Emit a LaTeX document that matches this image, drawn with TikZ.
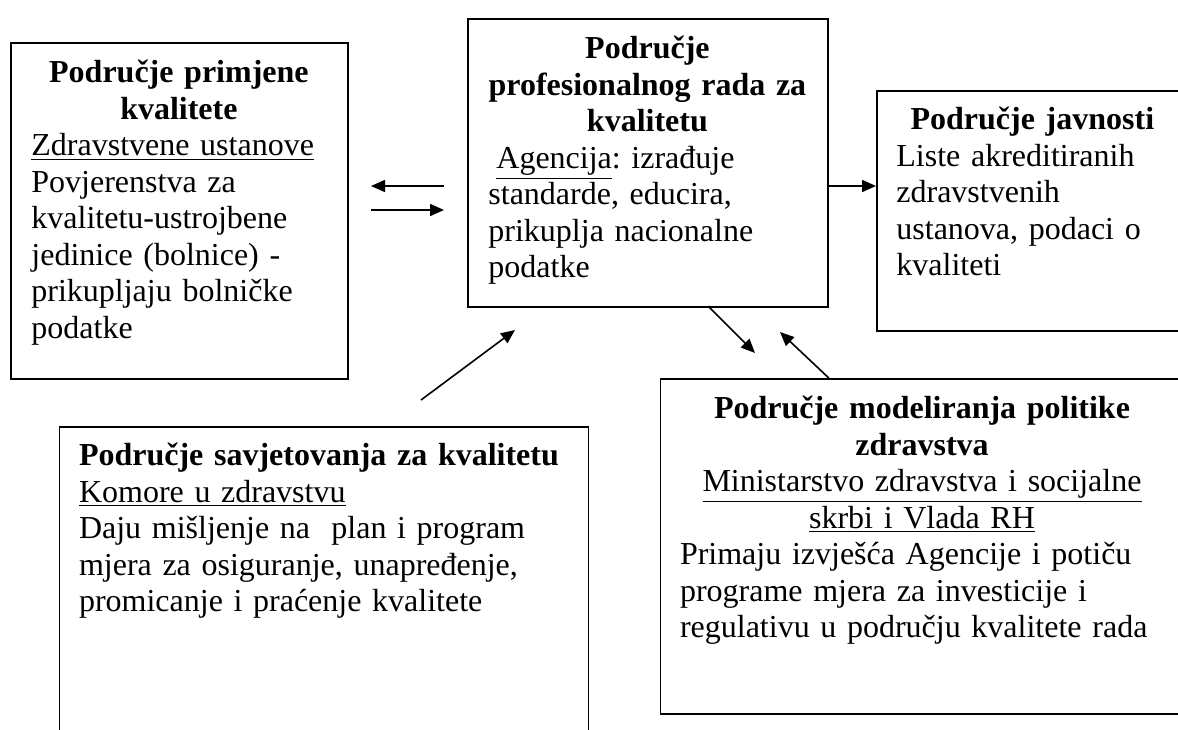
\documentclass[tikz,border=0pt]{standalone}
\usepackage{fontspec}
\setmainfont{Liberation Serif}
\usetikzlibrary{positioning, arrows.meta}

\begin{document}
\begin{tikzpicture}[x=0.5pt, y=-0.5pt,
        box/.style={draw, line width=0.9pt, inner sep=0pt, anchor=north west},
        txt/.style={inner sep=0pt, font=\fontsize{16pt}{18.25pt}\selectfont\frenchspacing},
        conn/.style={line width=0.8pt, -{Triangle[length=7pt, width=6pt]}}]
        \useasboundingbox (0,0) rectangle (1178,729);
        \clip (0,0) rectangle (1178,729);

        \node[box, minimum width=168.5pt, minimum height=168pt] (primBox) at (10,42) {};
        \node[txt, text width=147.5pt, below right=9pt and 10.5pt of primBox.north west] (primText)
            {{\centering\bfseries Područje primjene\\ kvalitete\par}\raggedright
            \underline{Zdravstvene ustanove}\\ Povjerenstva za\\ kvalitetu-ustrojbene\\
            jedinice (bolnice) -\\ prikupljaju bolničke\\ podatke};

        \node[box, minimum width=180pt, minimum height=144pt] (profBox) at (467,18) {};
        \node[txt, text width=159pt, below right=9pt and 10.5pt of profBox.north west] (profText)
            {{\centering\bfseries Područje\\ profesionalnog rada za\\ kvalitetu\par}\raggedright
            \hspace*{0.25em}\underline{Agencija}: izrađuje\\ standarde, educira,\\
            prikuplja nacionalne\\ podatke};

        \node[box, minimum width=156.5pt, minimum height=120pt] (javnBox) at (876,90) {};
        \node[txt, text width=136pt, below right=8.5pt and 10pt of javnBox.north west] (javnText)
            {{\centering\bfseries Područje javnosti\par}\raggedright
            Liste akreditiranih\\ zdravstvenih\\ ustanova, podaci o\\ kvaliteti};

        \node[box, minimum width=264.5pt, minimum height=167pt] (savBox) at (58.6,426) {};
        \node[txt, text width=244.5pt, below right=8.5pt and 10pt of savBox.north west] (savText)
            {\raggedright\textbf{Područje savjetovanja za kvalitetu}\\ \underline{Komore u zdravstvu}\\
            Daju mišljenje na\ \ plan i program\\ mjera za osiguranje, unapređenje,\\
            promicanje i praćenje kvalitete};

        \node[box, minimum width=262.5pt, minimum height=167.5pt] (modelBox) at (659.6,378) {};
        \node[txt, text width=242pt, below right=9pt and 10pt of modelBox.north west] (modelText)
            {{\centering\bfseries Područje modeliranja politike\\ zdravstva\par}
            {\centering\underline{Ministarstvo zdravstva i socijalne}\\ \underline{skrbi i Vlada RH}\par}\raggedright
            Primaju izvješća Agencije i potiču\\ programe mjera za investicije i\\
            regulativu u području kvalitete rada};

        \coordinate (backTail) at (444,186);
        \coordinate (backTip) at (371,186);
        \coordinate (fwdTail) at (371,210);
        \coordinate (fwdTip) at (444,210);
        \coordinate (savTail) at (421,400);
        \coordinate (savTip) at (515,330);
        \coordinate (downTail) at (708,306);
        \coordinate (downTip) at (755,353);
        \coordinate (upTip) at (780,332);

        \draw[conn] (backTail) -- (backTip);
        \draw[conn] (fwdTail) -- (fwdTip);
        \draw[conn] (profBox.east |- backTail) -- (javnBox.west |- backTail);
        \draw[conn] (savTail) -- (savTip);
        \draw[conn] (downTail) -- (downTip);
        \draw[conn] (profBox.east |- modelBox.north) -- (upTip);
\end{tikzpicture}
\end{document}
